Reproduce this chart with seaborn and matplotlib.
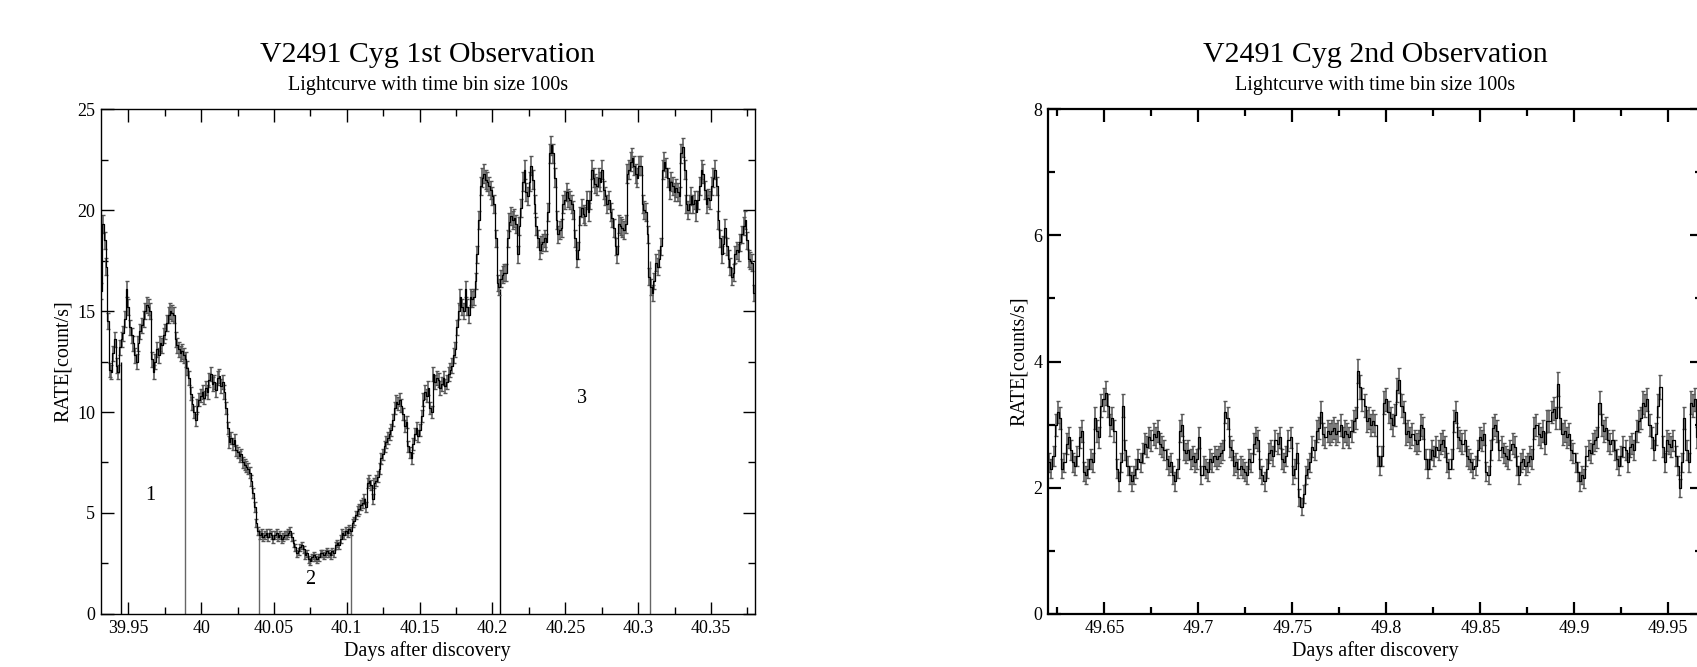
import numpy as np
import pandas as pd
import seaborn as sns
import matplotlib.pyplot as plt
from matplotlib.ticker import MultipleLocator, FuncFormatter

# light curves, 100 s bins, count rate per bin
BIN_S = 100.0
obs1_start = 39.9315   # days after discovery, centre of first bin
obs2_start = 49.6206

obs1_rate = [
    16.0, 19.3, 18.5, 17.2, 14.5, 12.1, 12.0, 12.9, 13.6, 12.3,
    12.0, 13.2, 13.6, 13.9, 14.6, 16.1, 15.2, 14.2, 13.8, 13.4,
    12.8, 12.5, 13.4, 14.0, 14.3, 14.6, 15.0, 15.3, 15.2, 15.0,
    12.6, 12.0, 12.5, 13.1, 12.8, 13.4, 13.3, 13.8, 14.0, 14.4,
    14.8, 15.0, 14.9, 14.8, 13.6, 13.3, 13.1, 12.9, 13.0, 12.8,
    12.6, 12.2, 11.7, 10.9, 10.4, 10.0, 9.6, 10.3, 10.6, 10.8,
    11.0, 10.7, 11.2, 11.0, 11.6, 11.9, 11.4, 11.5, 11.1, 11.7,
    11.8, 11.3, 11.5, 11.0, 10.2, 9.2, 8.5, 8.7, 8.4, 8.6,
    8.1, 8.0, 7.8, 7.9, 7.5, 7.4, 7.3, 7.2, 7.0, 6.6,
    6.0, 5.3, 4.5, 4.1, 3.9, 4.0, 3.8, 3.9, 4.0, 3.8,
    4.0, 3.9, 3.7, 3.9, 4.0, 3.8, 3.9, 3.7, 3.8, 3.9,
    3.9, 4.0, 4.1, 3.8, 3.5, 3.3, 3.0, 3.1, 3.3, 3.4,
    3.2, 2.9, 3.0, 2.7, 2.6, 2.8, 2.9, 2.8, 2.7, 2.8,
    3.0, 3.0, 2.9, 3.0, 3.1, 3.0, 2.9, 3.1, 3.0, 3.4,
    3.5, 3.4, 3.7, 4.0, 3.9, 4.1, 4.0, 4.2, 4.1, 4.5,
    4.6, 4.9, 5.1, 5.2, 5.4, 5.5, 5.7, 5.3, 6.5, 6.6,
    6.4, 5.7, 6.5, 6.6, 6.8, 7.2, 7.7, 7.9, 8.3, 8.5,
    8.7, 8.9, 9.1, 9.6, 10.2, 10.5, 10.4, 10.6, 10.3, 9.9,
    9.3, 9.5, 8.3, 8.0, 7.7, 8.4, 8.9, 9.2, 8.8, 9.1,
    9.8, 10.6, 11.0, 10.8, 11.2, 10.2, 10.0, 11.9, 11.5, 11.7,
    11.6, 11.2, 11.4, 11.7, 11.3, 11.5, 11.9, 12.1, 12.3, 12.8,
    13.1, 14.2, 15.0, 15.7, 15.2, 15.0, 16.1, 15.2, 14.8, 15.7,
    15.6, 15.7, 16.5, 17.8, 19.5, 21.2, 21.6, 21.8, 21.5, 21.4,
    21.2, 21.0, 20.7, 20.3, 18.6, 16.4, 16.2, 16.6, 16.8, 16.9,
    16.9, 18.6, 19.4, 19.7, 19.5, 19.6, 19.3, 17.8, 19.2, 20.1,
    21.4, 22.0, 20.9, 20.7, 21.4, 22.2, 21.5, 20.3, 19.2, 18.6,
    18.0, 18.3, 18.4, 18.6, 18.4, 19.9, 22.8, 23.2, 22.8, 21.6,
    19.5, 18.8, 19.0, 19.1, 20.3, 20.5, 20.9, 20.6, 20.5, 20.3,
    20.0, 18.6, 17.6, 18.0, 19.7, 20.1, 19.8, 19.7, 20.5, 19.9,
    20.5, 22.0, 21.6, 21.3, 21.2, 21.6, 21.4, 22.0, 21.0, 20.7,
    20.3, 20.5, 19.9, 19.6, 19.1, 18.2, 17.8, 19.3, 19.2, 19.1,
    19.0, 19.3, 21.8, 22.0, 22.4, 22.6, 22.2, 21.8, 21.6, 22.2,
    22.2, 20.3, 20.0, 19.9, 18.8, 16.7, 16.2, 15.9, 16.5, 17.4,
    17.2, 17.6, 18.2, 22.0, 22.4, 22.1, 21.6, 21.0, 21.4, 21.2,
    20.9, 21.1, 20.9, 20.7, 22.8, 23.1, 22.0, 20.3, 20.0, 20.3,
    20.7, 20.3, 20.5, 19.9, 20.5, 21.2, 22.0, 21.8, 21.0, 20.3,
    20.6, 20.5, 21.2, 21.6, 22.0, 21.2, 19.5, 18.6, 17.8, 18.3,
    19.1, 18.2, 17.6, 17.2, 16.7, 16.9, 17.8, 18.0, 17.9, 18.4,
    18.8, 19.2, 19.5, 18.5, 17.6, 17.5, 17.4, 15.9,
]

obs2_rate = [
    2.4, 2.3, 2.5, 3.0, 3.2, 3.1, 2.3, 2.4, 2.7, 2.8,
    2.6, 2.4, 2.35, 2.5, 2.8, 2.9, 2.25, 2.2, 2.3, 2.45,
    2.4, 3.1, 2.9, 2.8, 3.3, 3.4, 3.5, 3.3, 3.0, 3.1,
    2.9, 2.3, 2.1, 2.4, 3.3, 2.6, 2.35, 2.2, 2.1, 2.2,
    2.3, 2.45, 2.4, 2.55, 2.7, 2.65, 2.8, 2.75, 2.85, 2.8,
    2.9, 2.7, 2.65, 2.6, 2.45, 2.35, 2.4, 2.2, 2.1, 2.3,
    2.9, 3.0, 2.6, 2.55, 2.6, 2.45, 2.5, 2.4, 2.45, 2.8,
    2.2, 2.35, 2.3, 2.25, 2.45, 2.4, 2.5, 2.45, 2.5, 2.55,
    2.6, 3.2, 3.1, 2.65, 2.6, 2.35, 2.4, 2.3, 2.35, 2.3,
    2.25, 2.2, 2.45, 2.4, 2.7, 2.8, 2.75, 2.3, 2.2, 2.1,
    2.3, 2.55, 2.6, 2.5, 2.75, 2.7, 2.8, 2.45, 2.4, 2.5,
    2.75, 2.8, 2.2, 2.3, 2.55, 1.85, 1.7, 1.9, 2.2, 2.3,
    2.4, 2.65, 2.6, 2.9, 2.95, 3.2, 2.85, 2.8, 2.9, 2.85,
    2.9, 2.95, 2.85, 2.9, 3.0, 2.8, 2.9, 2.85, 2.8, 2.9,
    3.05, 3.1, 3.85, 3.6, 3.4, 3.3, 3.05, 3.1, 3.0, 3.05,
    3.0, 2.5, 2.35, 2.5, 3.35, 3.4, 3.2, 3.1, 3.0, 3.15,
    3.55, 3.7, 3.3, 3.2, 2.85, 2.9, 2.8, 2.85, 2.75, 2.7,
    2.75, 3.0, 2.95, 2.45, 2.3, 2.45, 2.6, 2.5, 2.65, 2.6,
    2.7, 2.75, 2.65, 2.4, 2.3, 2.45, 3.05, 3.2, 2.8, 2.75,
    2.7, 2.75, 2.5, 2.45, 2.4, 2.3, 2.35, 2.6, 2.8, 2.75,
    2.85, 2.25, 2.2, 2.6, 2.95, 3.0, 2.9, 2.6, 2.65, 2.55,
    2.5, 2.45, 2.6, 2.7, 2.65, 2.35, 2.2, 2.4, 2.45, 2.35,
    2.4, 2.5, 2.45, 2.95, 3.0, 2.85, 2.8, 2.9, 2.7, 3.05,
    3.05, 3.2, 3.25, 3.1, 3.65, 3.1, 2.85, 2.9, 2.8, 2.85,
    2.6, 2.55, 2.4, 2.25, 2.1, 2.2, 2.15, 2.5, 2.6, 2.55,
    2.7, 2.75, 2.8, 3.35, 3.0, 2.9, 2.95, 2.75, 2.7, 2.75,
    2.6, 2.45, 2.35, 2.5, 2.65, 2.6, 2.4, 2.65, 2.7, 2.6,
    2.9, 3.05, 3.1, 3.35, 3.3, 3.4, 3.0, 2.8, 2.6, 2.85,
    3.3, 3.6, 2.65, 2.4, 2.75, 2.7, 2.65, 2.75, 2.5, 2.35,
    2.0, 2.4, 3.1, 2.6, 2.4, 3.35, 3.3, 3.4, 2.8, 3.3,
]

# phase boundaries of the 1st observation
cut_days = [39.945, 39.989, 40.040, 40.103, 40.2055, 40.308]
cut_tops = [12.5, 12.9, 4.2, 4.2, 16.1, 17.5]
cut_colors = ['black', '#666666', '#666666', '#666666', 'black', '#666666']
phase_names = ['1', '2', '3']
phase_x = [39.9652, 40.0752, 40.2617]
phase_y = [5.86, 1.73, 10.68]

sns.set_theme(style='ticks')
plt.rcParams['font.family'] = ['Liberation Serif', 'DejaVu Serif']
plt.rcParams['text.color'] = 'black'
plt.rcParams['axes.labelcolor'] = 'black'


def lightcurve(ax, start, rate, spine_w):
    rate = np.asarray(rate)
    df = pd.DataFrame({'day': start + np.arange(len(rate)) * BIN_S / 86400.0,
                       'rate': rate})
    df['err'] = np.sqrt(df.rate * BIN_S) / BIN_S   # poisson error
    ax.errorbar(df.day, df.rate, yerr=df.err, fmt='none', ecolor='#555555',
                elinewidth=1.1, capsize=1.5, capthick=1.0, zorder=2)
    sns.lineplot(data=df, x='day', y='rate', ax=ax, drawstyle='steps-mid',
                 color='black', linewidth=0.9, errorbar=None, zorder=3)
    for s in ax.spines.values():
        s.set_linewidth(spine_w)
        s.set_color('black')
    ax.tick_params(which='both', direction='in', top=True, right=True,
                   colors='black', labelsize=13, pad=4)
    ax.tick_params(which='major', length=9, width=spine_w)
    ax.tick_params(which='minor', length=5, width=spine_w)
    ax.xaxis.set_major_locator(MultipleLocator(0.05))
    ax.xaxis.set_minor_locator(MultipleLocator(0.025))
    ax.xaxis.set_major_formatter(FuncFormatter(lambda v, p: f'{v:g}'))
    ax.set_xlabel('Days after discovery', fontsize=14.5, labelpad=3)


fig = plt.figure(figsize=(16.97, 6.67), dpi=100)
ax1 = fig.add_axes([0.0593, 0.0795, 0.3854, 0.757])
ax2 = fig.add_axes([0.6176, 0.0795, 0.3854, 0.757])

# 1st observation
lightcurve(ax1, obs1_start, obs1_rate, 1.0)
ax1.vlines(cut_days, 0, cut_tops, colors=cut_colors, linewidth=1.0, zorder=1)
for name, x, y in zip(phase_names, phase_x, phase_y):
    ax1.text(x, y, name, fontsize=14.5, ha='center', va='center')
ax1.set_xlim(39.931, 40.380)
ax1.set_ylim(0, 25)
ax1.yaxis.set_major_locator(MultipleLocator(5))
ax1.yaxis.set_minor_locator(MultipleLocator(2.5))
ax1.set_ylabel('RATE[count/s]', fontsize=14.5, labelpad=3)
ax1.text(0.5, 1.108, 'V2491 Cyg 1st Observation', transform=ax1.transAxes,
         fontsize=21.5, ha='center', va='center')
ax1.text(0.5, 1.047, 'Lightcurve with time bin size 100s', transform=ax1.transAxes,
         fontsize=14.5, ha='center', va='center')

# 2nd observation
lightcurve(ax2, obs2_start, obs2_rate, 1.6)
ax2.set_xlim(49.620, 49.968)
ax2.set_ylim(0, 8)
ax2.yaxis.set_major_locator(MultipleLocator(2))
ax2.yaxis.set_minor_locator(MultipleLocator(1))
ax2.set_ylabel('RATE[counts/s]', fontsize=14.5, labelpad=3)
ax2.text(0.5, 1.108, 'V2491 Cyg 2nd Observation', transform=ax2.transAxes,
         fontsize=21.5, ha='center', va='center')
ax2.text(0.5, 1.047, 'Lightcurve with time bin size 100s', transform=ax2.transAxes,
         fontsize=14.5, ha='center', va='center')

fig.savefig('out.png', dpi=100, facecolor='white')
